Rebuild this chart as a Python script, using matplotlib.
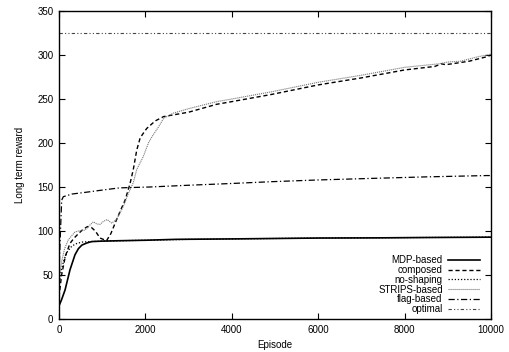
import numpy as np
import matplotlib.pyplot as plt

plt.rcParams['font.family'] = ['Liberation Sans', 'DejaVu Sans']

# MDP-based
mdp_x = [0, 60, 140, 255, 370, 450, 530, 650, 760, 1000, 1450, 2000, 2700, 4000, 5000, 6000, 7400, 8500, 10000]
mdp_y = [15, 22, 33, 56, 73, 80, 84, 86.5, 88, 88.5, 89, 89.5, 90.5, 91, 91.5, 92, 92.2, 92.6, 93]

# composed
comp_x = [0, 60, 150, 255, 350, 450, 560, 660, 750, 840, 950, 1100, 1200, 1300, 1420, 1530, 1640, 1720, 1800, 1880, 2030,
          2225, 2420, 3000, 3650, 4000, 4900, 6000, 7000, 8000, 8700, 8850, 8950, 9100, 9500, 9900, 10000]
comp_y = [25, 50, 72, 86, 92, 97, 102, 105, 104, 100, 92, 89, 97, 109, 123, 135, 153, 170, 192, 206, 216.5,
          225, 230, 235, 244, 247, 255, 266, 274, 283, 287, 290, 289, 290, 293, 298, 300]

# no-shaping
nos_x = [0, 50, 120, 200, 300, 420, 550, 750, 1000, 2000, 3000, 4000, 6000, 8000, 10000]
nos_y = [38, 55, 68, 77, 83, 86, 87.5, 88, 88.5, 89.5, 90.5, 91, 92, 92.5, 93]

# STRIPS-based
str_x = [0, 60, 130, 215, 370, 450, 600, 700, 795, 870, 950, 1030, 1115, 1220, 1330, 1490, 1600, 1720, 1800, 1950, 2070,
         2150, 2300, 2420, 2650, 3000, 3650, 4000, 4900, 6000, 7000, 8000, 8800, 9000, 9300, 9700, 10000]
str_y = [45, 65, 80, 90, 99, 100, 101, 106, 110.5, 108, 107.5, 111, 113, 109, 113, 128, 142, 155, 170, 184.5, 200,
         207, 218, 228, 234, 239, 247, 250, 258, 269, 277, 286, 290, 292, 293, 298, 301]

# flag-based
flag_x = [0, 30, 62, 100, 300, 700, 1000, 1400, 2100, 3000, 4000, 4900, 6000, 7400, 8500, 9900, 10000]
flag_y = [50, 95, 135, 139, 142, 144.5, 146.5, 149, 150, 152, 154, 156, 158, 160, 161.5, 163, 163]

# optimal
opt_x = [0, 10000]
opt_y = [325, 325]

fig = plt.figure(figsize=(5.1, 3.52), dpi=100)
ax = fig.add_axes([0.1157, 0.09375, 0.8470, 0.875])

ax.plot(mdp_x, mdp_y, color='black', lw=1.2, ls='-', label='MDP-based')
ax.plot(comp_x, comp_y, color='black', lw=1.0, ls=(0, (3, 2)), label='composed')
ax.plot(nos_x, nos_y, color='black', lw=0.9, ls=(0, (1, 1.5)), label='no-shaping')
ax.plot(str_x, str_y, color='#777777', lw=0.8, ls=(0, (1, 0.8)), label='STRIPS-based')
ax.plot(flag_x, flag_y, color='black', lw=0.9, ls=(0, (5, 2, 1, 2)), label='flag-based')
ax.plot(opt_x, opt_y, color='#444444', lw=0.8, ls=(0, (3, 2, 1, 2, 1, 2)), label='optimal')

ax.set_xlim(0, 10000)
ax.set_ylim(0, 350)
ax.set_xticks(np.arange(0, 10001, 2000))
ax.set_yticks(np.arange(0, 351, 50))
ax.tick_params(direction='in', top=True, right=True, length=4, width=0.8, labelsize=7, pad=4)
for s in ax.spines.values():
    s.set_linewidth(1.0)

ax.set_xlabel('Episode', fontsize=7, labelpad=4)
ax.set_ylabel('Long term reward', fontsize=7, labelpad=9)

ax.legend(loc='lower right', frameon=False, fontsize=7, markerfirst=False,
          handlelength=3.3, labelspacing=-0.02, handletextpad=0.5, borderaxespad=0.1,
          bbox_to_anchor=(0.985, 0.0))

fig.savefig('out.png', dpi=100)
